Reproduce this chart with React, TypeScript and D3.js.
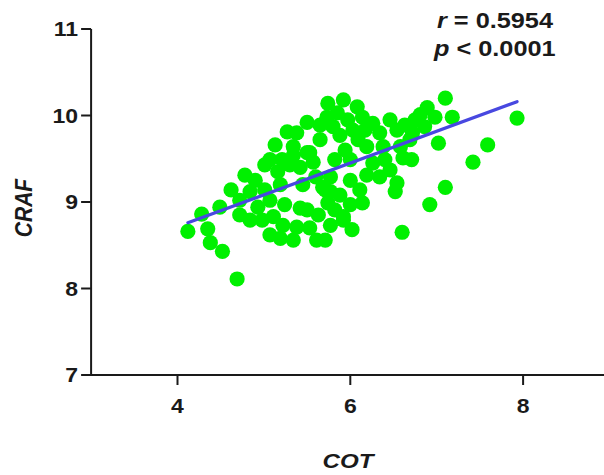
import React from "react";
import * as d3 from "d3";

const cotValues = [
  4.12, 4.28, 4.35, 4.38, 4.52, 4.69, 4.49, 4.62, 4.72, 4.78, 4.84, 4.84, 4.93, 5.01, 4.98, 5.07, 5.11, 5.13, 5.19, 5.22,
  5.27, 5.30, 5.34, 5.19, 5.34, 5.38, 5.42, 5.45, 5.50, 5.50, 5.53, 5.61, 5.60, 5.65, 5.71, 5.74, 5.77, 5.92, 6.02, 5.38,
  5.34, 5.50, 5.57, 5.42, 5.21, 5.01, 4.90, 4.72, 5.24, 5.63, 5.53, 5.74, 5.92, 5.85, 6.08, 6.14, 5.73, 5.80, 5.88, 6.03,
  6.26, 6.46, 6.54, 6.34, 6.19, 6.38, 6.58, 6.00, 6.26, 6.19, 6.34, 6.46, 6.54, 6.00, 5.77, 5.68, 5.77, 6.14, 5.92, 6.11,
  5.88, 6.00, 5.82, 6.52, 6.60, 6.61, 6.09, 5.94, 5.82, 6.17, 5.97, 5.65, 6.40, 6.69, 7.10, 6.89, 6.75, 6.98, 7.18, 6.86,
  6.72, 7.93, 7.02, 7.59, 7.42, 6.71, 7.10, 6.92, 6.81, 6.63, 5.07, 5.07, 5.71, 5.16,
];
const crafValues = [
  8.66, 8.86, 8.69, 8.53, 8.43, 8.11, 8.94, 9.14, 9.02, 9.31, 9.12, 8.79, 8.94, 9.43, 8.79, 9.02, 8.83, 9.66, 9.20, 8.73,
  9.81, 9.43, 9.54, 8.58, 8.56, 8.71, 8.93, 9.20, 9.92, 8.91, 9.57, 8.56, 9.29, 9.72, 9.14, 8.99, 8.73, 8.79, 8.68, 9.80,
  9.64, 9.57, 9.46, 9.40, 9.49, 9.14, 9.25, 8.85, 8.97, 8.85, 8.70, 10.14, 10.18, 10.03, 10.10, 9.98, 9.98, 9.87, 9.77, 9.83,
  9.91, 9.95, 9.83, 9.80, 9.64, 9.64, 9.64, 9.49, 9.45, 9.31, 9.29, 9.37, 9.22, 9.25, 9.29, 9.17, 9.12, 8.99, 8.83, 9.14,
  9.08, 8.97, 8.91, 9.12, 8.65, 9.51, 9.72, 9.60, 9.49, 9.83, 9.95, 9.89, 9.49, 9.72, 10.20, 10.09, 9.95, 9.98, 9.98, 9.87,
  9.80, 9.97, 9.68, 9.66, 9.46, 9.49, 9.17, 8.97, 10.01, 9.89, 9.49, 8.62, 8.56, 9.35,
];
const fitX = [4.12, 7.93];
const fitY = [8.76, 10.16];
const xTicks = [4, 6, 8];
const yTicks = [7, 8, 9, 10, 11];
const annotations = ["r", " = 0.5954", "p", " < 0.0001"];
const xTitle = "COT";
const yTitle = "CRAF";

export default function App() {
  const x = d3.scaleLinear().domain([3, 9]).range([91.1, 609.5]);
  const y = d3.scaleLinear().domain([7, 11]).range([375, 29]);
  const line = d3
    .line<number>()
    .x((d) => x(d))
    .y((_, i) => y(fitY[i]));
  const font = "'Liberation Sans', Arial, sans-serif";
  const ink = "#1a1a1a";
  const sx = 1.15;
  return (
    <svg width={604} height={475} style={{ position: "absolute", left: 0, top: 0, background: "#fff" }}>
      {cotValues.map((v, i) => (
        <circle key={i} cx={x(v)} cy={y(crafValues[i])} r={7.6} fill="#00f000" />
      ))}
      <path d={line(fitX) || ""} stroke="#4848e0" strokeWidth={3.2} fill="none" strokeLinecap="round" />
      <line x1={x(3)} x2={x(9)} y1={y(7)} y2={y(7)} stroke={ink} strokeWidth={2} />
      <line x1={x(3)} x2={x(3)} y1={y(7) + 1} y2={y(11)} stroke={ink} strokeWidth={2} />
      {xTicks.map((t) => (
        <g key={t}>
          <line x1={x(t)} x2={x(t)} y1={y(7)} y2={y(7) + 10} stroke={ink} strokeWidth={2} />
          <text
            transform={`translate(${x(t)},${y(7) + 38}) scale(${sx},1)`}
            textAnchor="middle"
            fontFamily={font}
            fontWeight="bold"
            fontSize={20}
            fill={ink}
          >
            {t}
          </text>
        </g>
      ))}
      {yTicks.map((t) => (
        <g key={t}>
          <line x1={x(3) - 10} x2={x(3)} y1={y(t)} y2={y(t)} stroke={ink} strokeWidth={2} />
          <text
            transform={`translate(${x(3) - 13},${y(t) + 7}) scale(${sx},1)`}
            textAnchor="end"
            fontFamily={font}
            fontWeight="bold"
            fontSize={20}
            fill={ink}
          >
            {t}
          </text>
        </g>
      ))}
      <text
        transform={`translate(${348},${468}) scale(${sx},1)`}
        textAnchor="middle"
        fontFamily={font}
        fontWeight="bold"
        fontStyle="italic"
        fontSize={21}
        fill={ink}
      >
        {xTitle}
      </text>
      <text
        transform={`translate(${32},${208}) rotate(-90) scale(1,${sx})`}
        textAnchor="middle"
        fontFamily={font}
        fontWeight="bold"
        fontStyle="italic"
        fontSize={21}
        fill={ink}
      >
        {yTitle}
      </text>
      <text transform={`translate(437,28) scale(${sx},1)`} fontFamily={font} fontWeight="bold" fontSize={22} fill={ink}>
        <tspan fontStyle="italic">{annotations[0]}</tspan>
        <tspan>{annotations[1]}</tspan>
      </text>
      <text transform={`translate(434,56) scale(${sx},1)`} fontFamily={font} fontWeight="bold" fontSize={22} fill={ink}>
        <tspan fontStyle="italic">{annotations[2]}</tspan>
        <tspan>{annotations[3]}</tspan>
      </text>
    </svg>
  );
}
